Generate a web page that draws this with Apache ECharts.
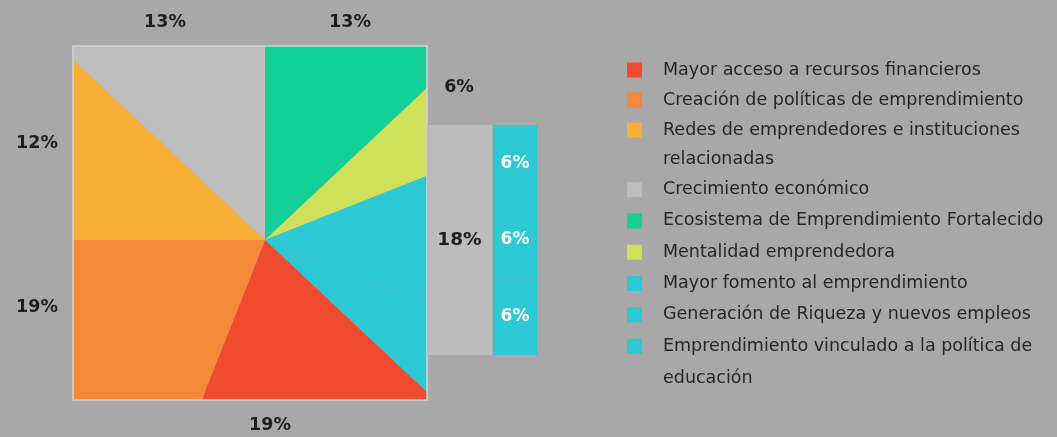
<!DOCTYPE html>
<html>
<head>
<meta charset="utf-8">
<script src="https://cdn.jsdelivr.net/npm/echarts@6/dist/echarts.min.js"></script>
<style>
  html, body { margin: 0; padding: 0; background: #a8a8a8; }
  #chart { width: 1057px; height: 437px; }
</style>
</head>
<body>
<div id="chart"></div>
<script>
// factores, en el orden de la leyenda
var factores = [
  'Mayor acceso a recursos financieros',
  'Creación de políticas de emprendimiento',
  'Redes de emprendedores e instituciones relacionadas',
  'Crecimiento económico',
  'Ecosistema de Emprendimiento Fortalecido',
  'Mentalidad emprendedora',
  'Mayor fomento al emprendimiento',
  'Generación de Riqueza y nuevos empleos',
  'Emprendimiento vinculado a la política de educación'
];
var porcentajes = [19, 19, 12, 13, 13, 6, 6, 6, 6];
var colores = ['#f04a2f', '#f28a38', '#f7b035', '#bebdbd', '#13cf98', '#cfe05b', '#2cc8d4', '#2cc8d4', '#2cc8d4'];
// orden de las porciones del pastel, sentido horario desde arriba
var ordenPastel = [4, 5, 6, 7, 8, 0, 1, 2, 3];
// barra de desglose: total y sus partes
var totalDesglose = [18];
var partesDesglose = [6, 6, 6];

var fondo = '#a8a8a8';
var texto = '#1e1e1e';
var fuente = 'DejaVu Sans';
var tamLeyenda = 17.5;

// cuadro donde se recorta el pastel
var cuadro = { x: 73, y: 46, w: 354, h: 354 };
var centro = [265, 240];

// sitio de cada etiqueta de porcentaje (alrededor del cuadro)
var sitioEtiqueta = {
  'Crecimiento económico': [165, 22],
  'Ecosistema de Emprendimiento Fortalecido': [350, 22],
  'Mentalidad emprendedora': [459, 87],
  'Mayor acceso a recursos financieros': [270, 425],
  'Creación de políticas de emprendimiento': [37, 307],
  'Redes de emprendedores e instituciones relacionadas': [37, 143]
};
// cortes de línea de la leyenda
var primeraLinea = {
  'Redes de emprendedores e instituciones relacionadas': 'Redes de emprendedores e instituciones',
  'Emprendimiento vinculado a la política de educación': 'Emprendimiento vinculado a la política de'
};

var datosPastel = ordenPastel.map(function (i) {
  return {
    name: factores[i],
    value: porcentajes[i],
    itemStyle: { color: colores[i] }
  };
});
var datosEtiquetas = ordenPastel.map(function (i) {
  return {
    name: factores[i],
    value: porcentajes[i],
    label: { show: !!sitioEtiqueta[factores[i]] }
  };
});

var chart = echarts.init(document.getElementById('chart'));

var leyendaBase = {
  orient: 'vertical',
  left: 627,
  padding: 0,
  itemWidth: 15,
  itemHeight: 15,
  itemGap: 0,
  icon: 'rect',
  selectedMode: false,
  formatter: function (name) {
    return primeraLinea[name] || name;
  }
};

function textoLeyenda(alto) {
  return {
    color: '#262626',
    fontFamily: fuente,
    fontSize: tamLeyenda,
    lineHeight: alto,
    padding: [0, 0, 0, 16]
  };
}

function mascara(x, y, w, h) {
  return { type: 'rect', z: 5, silent: true, shape: { x: x, y: y, width: w, height: h }, style: { fill: fondo } };
}

var lineaTexto = function (txt, y) {
  return {
    type: 'text', z: 20, x: 663, y: y,
    style: { text: txt, fill: '#262626', font: tamLeyenda + 'px "' + fuente + '"', verticalAlign: 'middle' }
  };
};

var etiquetaFuerte = {
  color: texto,
  fontFamily: fuente,
  fontWeight: 'bold',
  fontSize: 17.5
};

chart.setOption({
  backgroundColor: fondo,
  animation: false,
  legend: [
    Object.assign({}, leyendaBase, {
      top: 55,
      data: factores.slice(0, 3),
      textStyle: textoLeyenda(30)
    }),
    Object.assign({}, leyendaBase, {
      top: 174,
      data: factores.slice(3),
      textStyle: textoLeyenda(31.3)
    })
  ],
  grid: [
    { left: 427, top: 125, width: 65, height: 230 },
    { left: 493, top: 125, width: 44, height: 230 }
  ],
  xAxis: [
    { type: 'category', gridIndex: 0, data: ['total'], show: false },
    { type: 'category', gridIndex: 1, data: ['partes'], show: false }
  ],
  yAxis: [
    { type: 'value', gridIndex: 0, min: 0, max: 18, show: false },
    { type: 'value', gridIndex: 1, min: 0, max: 18, show: false }
  ],
  graphic: [
    mascara(0, 0, 600, cuadro.y),
    mascara(0, cuadro.y + cuadro.h, 600, 437 - cuadro.y - cuadro.h),
    mascara(0, cuadro.y, cuadro.x, cuadro.h),
    mascara(cuadro.x + cuadro.w, cuadro.y, 600 - cuadro.x - cuadro.w, cuadro.h),
    {
      type: 'rect', z: 6, silent: true,
      shape: { x: cuadro.x, y: cuadro.y, width: cuadro.w, height: cuadro.h },
      style: { fill: 'none', stroke: '#d6d6d6', lineWidth: 1.5 }
    },
    lineaTexto('relacionadas', 159),
    lineaTexto('educación', 378)
  ],
  series: [
    {
      type: 'pie',
      z: 1,
      silent: true,
      center: centro,
      radius: 290,
      startAngle: 90,
      clockwise: true,
      label: { show: false },
      labelLine: { show: false },
      itemStyle: { borderWidth: 0 },
      data: datosPastel
    },
    {
      // solo las etiquetas, encima de la máscara
      type: 'pie',
      z: 10,
      silent: true,
      center: centro,
      radius: 100,
      startAngle: 90,
      clockwise: true,
      avoidLabelOverlap: false,
      itemStyle: { color: 'rgba(0,0,0,0)', borderWidth: 0 },
      label: Object.assign({ position: 'outside', formatter: '{c}%' }, etiquetaFuerte),
      labelLine: { show: false },
      labelLayout: function (p) {
        var s = sitioEtiqueta[datosEtiquetas[p.dataIndex].name];
        if (!s) return {};
        return { x: s[0], y: s[1], align: 'center', verticalAlign: 'middle' };
      },
      data: datosEtiquetas
    },
    {
      type: 'bar',
      name: 'total',
      z: 10,
      xAxisIndex: 0,
      yAxisIndex: 0,
      barWidth: '100%',
      itemStyle: { color: '#bdbcbc' },
      label: Object.assign({ show: true, position: 'inside', formatter: '{c}%' }, etiquetaFuerte, { fontSize: 18.5 }),
      data: totalDesglose
    }
  ].concat(partesDesglose.map(function (v, i) {
    return {
      type: 'bar',
      name: 'parte' + i,
      stack: 'partes',
      z: 10,
      xAxisIndex: 1,
      yAxisIndex: 1,
      barWidth: '100%',
      itemStyle: { color: '#2cc8d4' },
      label: Object.assign({ show: true, position: 'inside', formatter: '{c}%' }, etiquetaFuerte, { color: '#ffffff', fontSize: 17 }),
      data: [v]
    };
  }))
});
</script>
</body>
</html>
